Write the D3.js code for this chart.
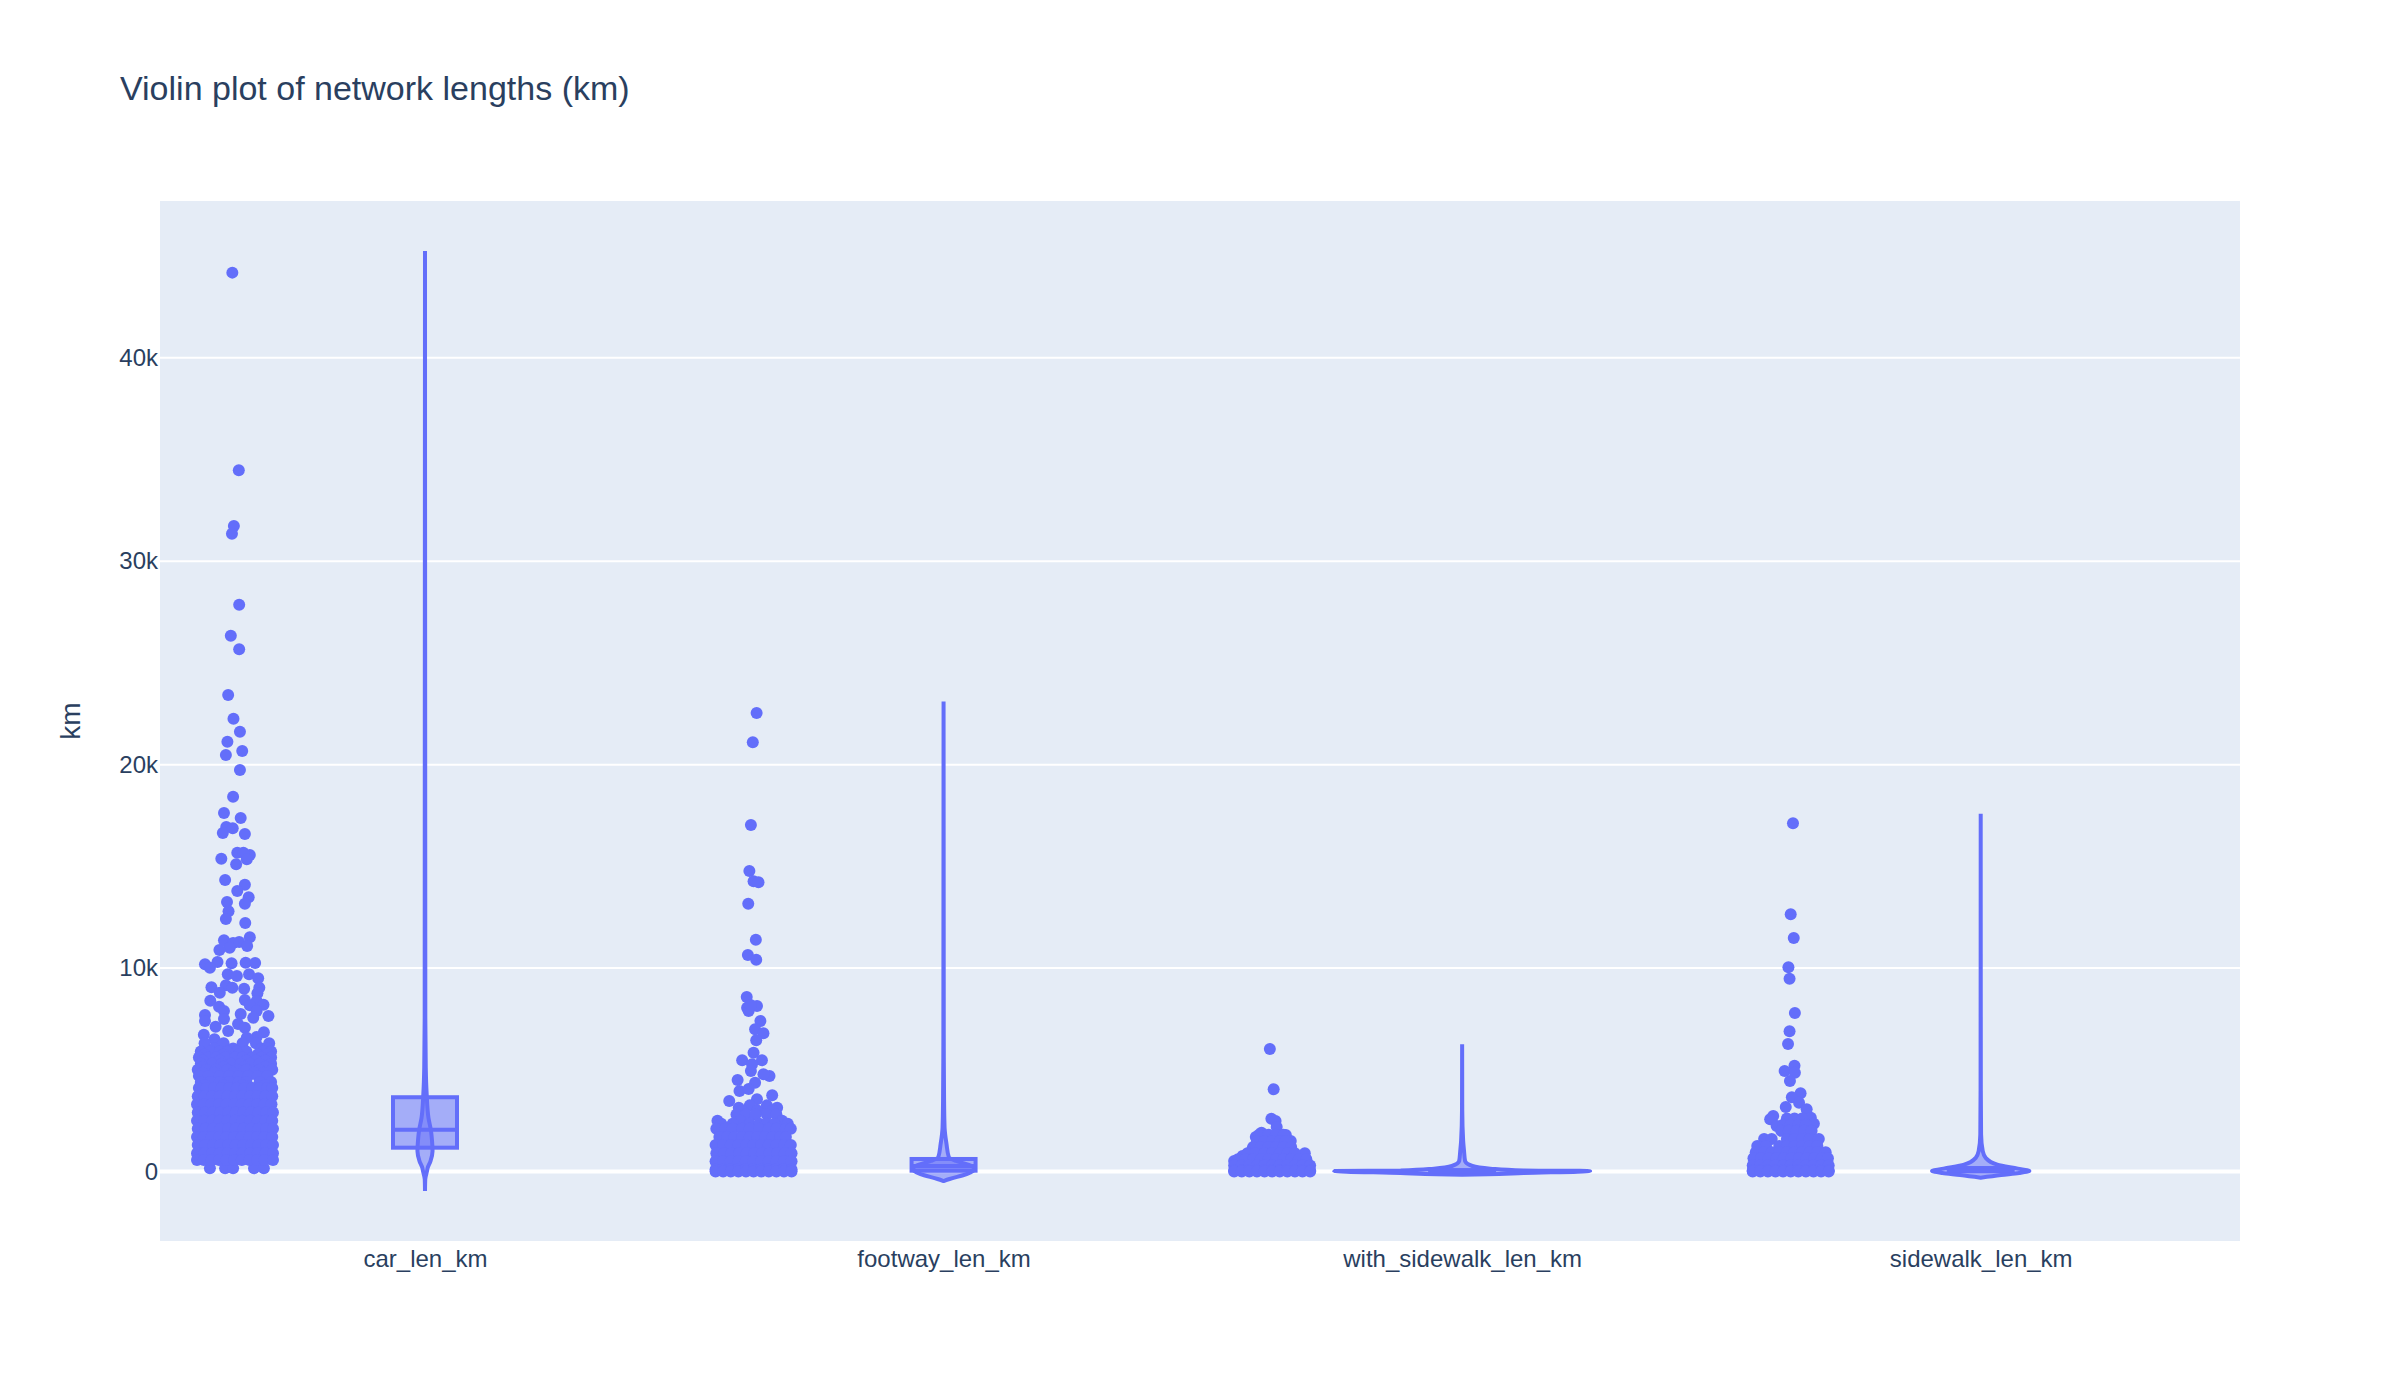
<!DOCTYPE html>
<html><head><meta charset="utf-8">
<script src="https://cdn.jsdelivr.net/npm/d3@7/dist/d3.min.js"></script>
<style>html,body{margin:0;padding:0;background:#fff}svg{display:block}</style>
</head><body><div id="chart"></div>
<script>
const categories=["car_len_km","footway_len_km","with_sidewalk_len_km","sidewalk_len_km"];
const yTicks=[0,10000,20000,30000,40000];

// individually read outliers: value (km) and jitter fraction
const carKm=[44185,34471,31733,31354,27864,26340,25671,23425,22260,21621,21129,20672,20475,19738,18425,17624,17378,16936,16872,16641,16592,15672,15559,15672,15348,15102,15377,14330,14099,13789,13480,13249,13165,12791,12413,12216,11513,11366,11282,11233,11002,11086,10889,10299,10186,10019,10235,10265,10250,9694,9611,9694,9498,9055,9154,9036,8790,8987,9036,8760,8397,8431,8382,8200,8171,8102,7890,7694,7743,7644,7890,7561,7399,7497,7118,7251,7069,6907,6843,6725,6499,6612,6578,157,157,157,157,157];
const carJit=[-.07,.10,-.03,-.08,.11,-.11,.11,-.18,-.04,.13,-.20,.19,-.24,.13,-.05,-.29,.15,-.23,-.06,-.32,.26,.06,.39,.22,.31,.03,-.36,-.26,.26,.06,.36,-.21,.26,-.17,-.24,.27,.39,-.29,.11,-.05,-.14,.32,-.41,-.46,-.79,-.66,-.09,.28,.53,-.19,.05,.37,.61,-.62,-.24,-.07,-.40,.24,.64,.59,-.65,.26,.57,.75,.39,-.42,-.29,-.79,.15,.88,.57,.48,-.79,-.29,-.51,.08,.26,-.18,.76,-.82,-.54,.57,.31,-.66,-.26,-.05,.5,.76];
const footKm=[22540,21100,17034,14773,14266,14217,13165,11395,10643,10412,8578,8052,8136,7890,8185,7399,6991,6794,6450,5840,5467,5467,5270,4941,4695,4778,4498,4365,3957,4056,3466,3746,3549,3136,3136];
const footJit=[.08,-.02,-.07,-.11,0,.13,-.14,.06,-.15,.07,-.18,-.17,.09,-.13,-.08,.18,.04,.26,.07,0,-.3,.22,-.04,-.07,.42,.26,-.42,.04,-.37,-.13,-.64,.49,.09,.62,-.39];
const withKm=[6022,4041,2596,2483,2188,1907,1696,1794,1499,1091,895,762,516];
const withJit=[-.06,.04,-.02,.09,.12,-.28,-.43,.36,.49,-.52,.86,-.78,-1];
const sideKm=[17118,12644,11479,10038,9478,7792,6892,6268,5201,4941,4857,4449,3844,3648,3171,3382,3058,2728,2566,2645,2350,2237];
const sideJit=[.06,0,.08,-.06,-.03,.11,-.03,-.07,.10,-.16,.11,-.02,.26,.03,-.13,.22,.42,-.46,-.54,.53,.61,-.37];

// crowded mass: one km value per row with the jitter fractions read along that row
const carRowKm=[6300,6050,5900,5750,5600,5450,5300,5150,5000,4850,4700,4400,4250,4100,3700,3300,2900,2500,2100,1700,1300,900,560];
const carRowJit=[
[-.8,-.3,.2,.55,.9],
[-.55,-.05,.7,.85],
[-.9,-.65,-.4,-.2,.05,.3,.75,.95],
[-.8,-.3,.1,.6,.85],
[-.95,-.7,-.5,-.25,0,.2,.45,.7,.95],
[-.85,-.4,.3,.55,.8],
[-.9,-.6,-.35,-.1,.15,.4,.65,.95],
[-.85,-.3,.25,.8],
[-.98,-.75,-.5,-.2,.05,.3,.65,.98],
[-.85,-.55,-.05,.5,.75],
[-.95,-.7,-.4,-.15,.1,.35,.6,.85],
[-.9,-.65,-.4,-.15,.1,.3,.65,.95],
[-.8,-.3,.2,.8],
[-.95,-.75,-.55,-.35,-.15,.05,.25,.45,.65,.85,.98],
[-.98,-.8,-.6,-.4,-.2,0,.2,.4,.6,.8,.98],
[-1,-.82,-.62,-.42,-.22,-.02,.18,.38,.58,.78,.96],
[-.98,-.78,-.58,-.38,-.18,.02,.22,.42,.62,.82,1],
[-1,-.8,-.6,-.4,-.2,0,.2,.4,.6,.8,.98],
[-.98,-.78,-.58,-.38,-.18,.02,.22,.42,.62,.82,1],
[-1,-.82,-.62,-.42,-.22,-.02,.18,.38,.58,.78,.98],
[-.98,-.78,-.58,-.38,-.18,.02,.22,.42,.62,.82,1],
[-1,-.8,-.6,-.4,-.2,0,.2,.4,.6,.8,1],
[-1,-.82,-.62,-.42,-.22,-.02,.18,.38,.58,.78,1]];
const footRowKm=[3250,3000,2800,2500,2350,2100,1700,1300,900,500,100,0];
const footRowJit=[
[-.1,.35],
[-.3,.1,.5],
[-.45,-.2,.05,.35,.6],
[-.95,-.35,.75],
[-.85,-.55,-.1,.15,.35,.55,.9],
[-.98,-.75,-.55,-.3,-.1,.15,.4,.6,.85,.98],
[-.9,-.7,-.5,-.3,-.1,.1,.3,.5,.7,.85],
[-1,-.8,-.6,-.4,-.2,0,.2,.4,.6,.8,.98],
[-.98,-.78,-.58,-.38,-.18,.02,.22,.42,.62,.82,1],
[-1,-.8,-.6,-.4,-.2,0,.2,.4,.6,.8,1],
[-1,-.82,-.62,-.42,-.22,-.02,.18,.38,.58,.78,1],
[-1,-.8,-.6,-.4,-.2,0,.2,.4,.6,.8,1]];
const withRowKm=[1800,1500,1200,900,600,300,50,0];
const withRowJit=[
[-.35,-.1,.1,.3],
[-.4,-.2,0,.2,.35],
[-.5,-.3,-.1,.1,.3,.5],
[-.65,-.45,-.2,0,.2,.4,.6],
[-.9,-.7,-.5,-.3,-.1,.1,.3,.5,.7,.9],
[-1,-.8,-.6,-.4,-.2,0,.2,.4,.6,.8,1],
[-1,-.82,-.62,-.42,-.22,-.02,.18,.38,.58,.78,1],
[-1,-.8,-.6,-.4,-.2,0,.2,.4,.6,.8,1]];
const sideRowKm=[2600,2300,2000,1600,1250,950,650,300,50,0];
const sideRowJit=[
[-.1,.1,.3],
[-.2,0,.2,.4],
[-.25,-.05,.15,.35,.55],
[-.7,-.5,-.1,.1,.3,.5,.74],
[-.88,-.65,-.3,-.1,.1,.3,.5,.7],
[-.92,-.7,-.5,-.3,-.1,.1,.3,.5,.7,.92],
[-.98,-.78,-.58,-.38,-.18,.02,.22,.42,.62,.82,.98],
[-1,-.8,-.6,-.4,-.2,0,.2,.4,.6,.8,1],
[-1,-.82,-.62,-.42,-.22,-.02,.18,.38,.58,.78,1],
[-1,-.8,-.6,-.4,-.2,0,.2,.4,.6,.8,1]];

// violin outlines: km and relative density
const carViolinKm=[45250,7560,5100,3810,2645,1990,1500,1008,515,187,25,-380,-960];
const carViolinDensity=[0,.0025,.006,.013,.027,.047,.055,.059,.043,.021,.016,.002,0];
const footViolinKm=[23100,6750,3470,2150,1350,710,515,270,100,-130,-370,-470];
const footViolinDensity=[0,.0015,.004,.008,.023,.041,.10,.219,.242,.18,.047,0];
const withViolinKm=[6250,3000,1500,1000,515,270,140,50,25,-75,-130,-157];
const withViolinDensity=[0,.001,.008,.015,.023,.08,.22,.48,1,.48,.2,0];
const sideViolinKm=[17580,4000,1830,1000,660,334,140,25,-74,-172,-305];
const sideViolinDensity=[0,.001,.003,.016,.04,.13,.29,.38,.3,.16,0];

// box summaries: q1, median, q3
const boxQ1=[1170,40,5,10];
const boxMedian=[2055,270,30,60];
const boxQ3=[3650,615,70,170];

const seriesPoints=[[carKm,carJit,carRowKm,carRowJit],[footKm,footJit,footRowKm,footRowJit],[withKm,withJit,withRowKm,withRowJit],[sideKm,sideJit,sideRowKm,sideRowJit]];
const seriesViolin=[[carViolinKm,carViolinDensity],[footViolinKm,footViolinDensity],[withViolinKm,withViolinDensity],[sideViolinKm,sideViolinDensity]];

const W=2400,H=1400,color="#636efa",ink="#2a3f5f",panel="#E5ECF6";
const plot={l:160,r:2240,t:201,b:1241};
const font='"Liberation Sans", Arial, sans-serif';
const svg=d3.select("#chart").append("svg").attr("width",W).attr("height",H).attr("viewBox",`0 0 ${W} ${H}`).style("font-family",font);
svg.append("rect").attr("width",W).attr("height",H).attr("fill","#fff");
svg.append("rect").attr("x",plot.l).attr("y",plot.t).attr("width",plot.r-plot.l).attr("height",plot.b-plot.t).attr("fill",panel);

const y=d3.scaleLinear().domain([-3417,47706]).range([plot.b,plot.t]);
const x=d3.scalePoint().domain(categories).range([425,1980.7]);
const jitter=d3.scaleLinear().domain([-1,1]).range([-228,-152]);
const density=d3.scaleLinear().domain([0,1]).range([0,128]);

svg.append("g").selectAll("line").data(yTicks).join("line")
 .attr("x1",plot.l).attr("x2",plot.r).attr("y1",d=>y(d)).attr("y2",d=>y(d))
 .attr("stroke","#fff").attr("stroke-width",d=>d===0?4:2);

const yAxis=d3.axisLeft(y).tickValues(yTicks).tickSize(0).tickPadding(2).tickFormat(d=>d===0?"0":(d/1000)+"k");
const gy=svg.append("g").attr("transform",`translate(${plot.l},0)`).call(yAxis);
gy.select(".domain").remove();
gy.selectAll("text").attr("font-size",24).attr("fill",ink).attr("font-family",font);

const xAxis=d3.axisBottom(x).tickSize(0).tickPadding(9);
const gx=svg.append("g").attr("transform",`translate(0,${plot.b})`).call(xAxis);
gx.select(".domain").remove();
gx.selectAll("text").attr("font-size",24).attr("fill",ink).attr("font-family",font);

svg.append("text").attr("x",120).attr("y",100).attr("font-size",34).attr("fill",ink).text("Violin plot of network lengths (km)");
svg.append("text").attr("transform",`translate(80,${(plot.t+plot.b)/2}) rotate(-90)`).attr("text-anchor","middle").attr("font-size",28).attr("fill",ink).text("km");

const groups=svg.append("g").selectAll("g").data(categories).join("g");
groups.each(function(cat,i){
  const g=d3.select(this),cx=x(cat);
  const [km,jit,rowKm,rowJit]=seriesPoints[i];
  const pts=km.map((v,k)=>[v,jit[k]]);
  rowKm.forEach((v,r)=>rowJit[r].forEach(j=>pts.push([v,j])));
  const [vk,vd]=seriesViolin[i];
  const rows=vk.map((v,k)=>[v,vd[k]]);
  const area=d3.area().curve(d3.curveMonotoneY).y(d=>y(d[0])).x0(d=>cx-density(d[1])).x1(d=>cx+density(d[1]));
  g.append("path").attr("d",area(rows)).attr("fill",color).attr("fill-opacity",.5)
    .attr("stroke",color).attr("stroke-width",4).attr("stroke-linejoin","bevel");
  const bh=32;
  g.append("rect").attr("x",cx-bh).attr("width",2*bh).attr("y",y(boxQ3[i])).attr("height",y(boxQ1[i])-y(boxQ3[i]))
    .attr("fill",color).attr("fill-opacity",.5).attr("stroke",color).attr("stroke-width",4);
  g.append("line").attr("x1",cx-bh).attr("x2",cx+bh).attr("y1",y(boxMedian[i])).attr("y2",y(boxMedian[i])).attr("stroke",color).attr("stroke-width",4);
  g.append("g").selectAll("circle").data(pts).join("circle")
    .attr("cx",d=>cx+jitter(d[1])).attr("cy",d=>y(d[0])).attr("r",6).attr("fill",color);
});
</script></body></html>
